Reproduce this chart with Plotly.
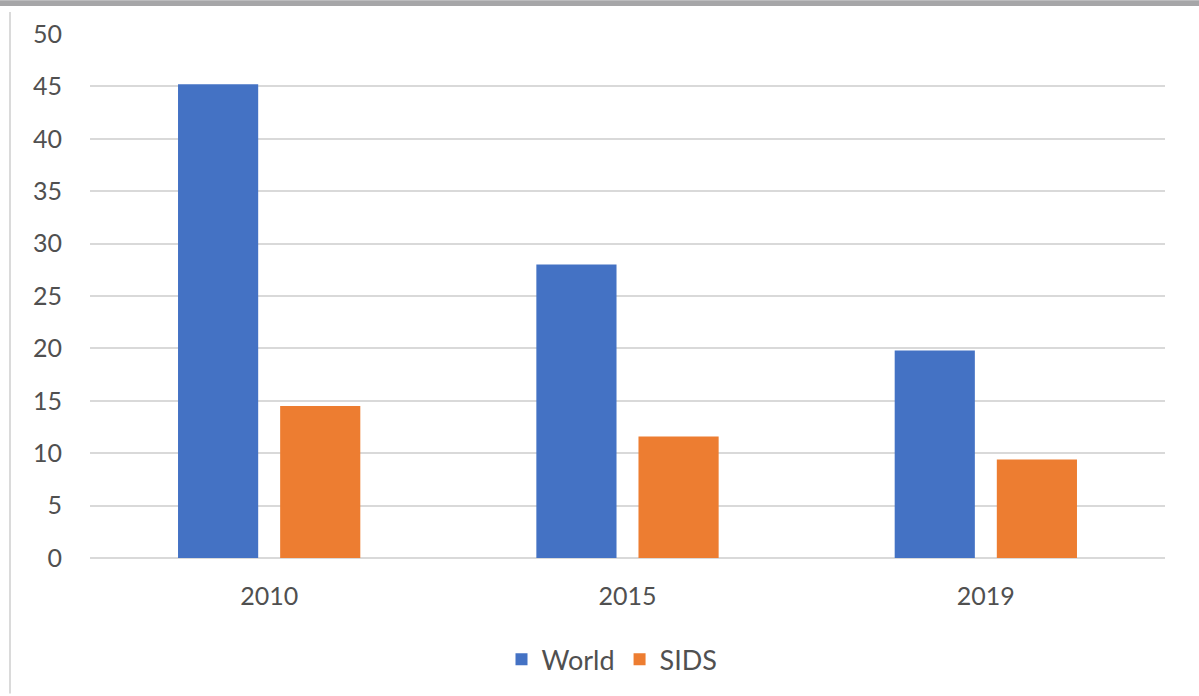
import plotly.graph_objects as go

years = ["2010", "2015", "2019"]
world = [45.2, 28.0, 19.8]
sids = [14.5, 11.6, 9.4]
y_ticks = [0, 5, 10, 15, 20, 25, 30, 35, 40, 45, 50]

W, H = 1199, 696
L, R, T, B = 90, 34, 34, 136
pw, ph = W - L - R, H - T - B

def px_y(y):
    return (H - B - y) / ph

def px_x(x):
    return (x - L) / pw

fig = go.Figure()
fig.add_trace(go.Bar(name="World", x=years, y=world, marker=dict(color="#4472C4", line=dict(width=0))))
fig.add_trace(go.Bar(name="SIDS", x=years, y=sids, marker=dict(color="#ED7D31", line=dict(width=0))))

font = "Lato, 'Open Sans', sans-serif"
txt = "#505050"
fig.update_layout(
    width=W, height=H,
    margin=dict(l=L, r=R, t=T, b=B),
    paper_bgcolor="white", plot_bgcolor="white",
    barmode="group", bargap=0.43, bargroupgap=0.215,
    font=dict(family=font, size=25, color=txt),
    showlegend=True,
    legend=dict(orientation="h", x=px_x(612), xanchor="center", y=px_y(662), yanchor="middle",
                font=dict(size=27, color=txt), itemwidth=30, traceorder="normal"),
    xaxis=dict(showgrid=False, showline=False, ticks="", ticklabelstandoff=21,
               tickfont=dict(size=25, color=txt)),
    yaxis=dict(range=[0, 50], tickvals=y_ticks, showgrid=True, gridcolor="#D9D9D9", gridwidth=2,
               zeroline=True, zerolinecolor="#D9D9D9", zerolinewidth=2, showline=False, ticks="",
               ticklabelstandoff=27, tickfont=dict(size=25, color=txt)),
    shapes=[
        dict(type="rect", xref="paper", yref="paper", x0=px_x(0), x1=px_x(W), y0=px_y(6), y1=px_y(0),
             fillcolor="#A6A6A8", line=dict(width=0), layer="above"),
        dict(type="line", xref="paper", yref="paper", x0=px_x(10), x1=px_x(10), y0=px_y(12), y1=px_y(H),
             line=dict(color="#DADADA", width=2)),
    ],
)

fig.write_html("out.html")
